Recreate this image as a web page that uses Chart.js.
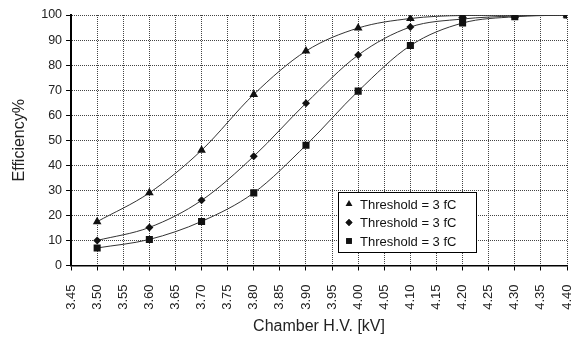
<!DOCTYPE html>
<html>
<head>
<meta charset="utf-8">
<script src="https://cdn.jsdelivr.net/npm/chart.js@4.4.0/dist/chart.umd.min.js"></script>
<style>
  html, body { margin: 0; padding: 0; background: #fff; }
  #wrap { width: 572px; height: 338px; }
</style>
</head>
<body>
<div id="wrap"><canvas id="effChart" width="572" height="338"></canvas></div>
<script>
// Data
const voltages = [3.50, 3.60, 3.70, 3.80, 3.90, 4.00, 4.10, 4.20, 4.30, 4.40];
const effTriangle = [17.5, 29, 46, 68.3, 85.6, 94.8, 98.6, 99.8, 99.9, 100];
const effDiamond = [10, 15.2, 26, 43.6, 64.8, 84, 95.2, 98.4, 99.6, 100];
const effSquare = [7, 10.4, 17.6, 29, 48, 69.6, 87.8, 96.8, 99.3, 100];
const seriesLabels = ['Threshold = 3 fC', 'Threshold = 3 fC', 'Threshold = 3 fC'];
const markerStyles = ['triangle', 'rectRot', 'rect'];

const font = "'Liberation Sans', Arial, sans-serif";

function toPoints(values) {
    return voltages.map((v, i) => ({ x: v, y: values[i] }));
}

function makeDataset(label, values, marker, size) {
    return {
        label: label,
        data: toPoints(values),
        borderColor: '#333',
        borderWidth: 1,
        backgroundColor: '#111',
        pointStyle: marker,
        pointRadius: size,
        pointBorderWidth: 0,
        cubicInterpolationMode: 'monotone',
        fill: false
    };
}

// Legend drawn inside the plot area, boxed
const boxLegend = {
    id: 'boxLegend',
    afterDraw(chart) {
        const ctx = chart.ctx;
        const xs = chart.scales.x;
        const ys = chart.scales.y;
        const left = Math.round(xs.getPixelForValue(3.961));
        const top = Math.round(ys.getPixelForValue(29.2));
        const w = 138, h = 60;
        ctx.save();
        ctx.fillStyle = '#fff';
        ctx.fillRect(left, top, w, h);
        ctx.strokeStyle = '#000';
        ctx.lineWidth = 1;
        ctx.strokeRect(left + 0.5, top + 0.5, w, h);
        ctx.font = '13px ' + font;
        ctx.textBaseline = 'middle';
        chart.data.datasets.forEach((ds, i) => {
            const cy = top + 12 + i * 18.5;
            Chart.helpers.drawPoint(ctx, {
                pointStyle: ds.pointStyle,
                radius: ds.pointStyle === 'rectRot' ? 3.5 : 4,
                borderWidth: 0
            }, left + 11, cy);
            ctx.fillStyle = '#111';
            ctx.fill();
            ctx.fillText(ds.label, left + 22, cy + 1);
        });
        ctx.restore();
    }
};

const ctx = document.getElementById('effChart').getContext('2d');
const effChart = new Chart(ctx, {
    type: 'line',
    data: {
        datasets: [
            makeDataset(seriesLabels[0], effTriangle, markerStyles[0], 5),
            makeDataset(seriesLabels[1], effDiamond, markerStyles[1], 4),
            makeDataset(seriesLabels[2], effSquare, markerStyles[2], 5)
        ]
    },
    options: {
        responsive: false,
        animation: false,
        layout: { padding: { top: 15, right: 5, left: 6, bottom: 2 } },
        plugins: {
            legend: { display: false },
            tooltip: { enabled: false }
        },
        scales: {
            x: {
                type: 'linear',
                min: 3.45,
                max: 4.40,
                // rotated labels make chart.js reserve extra room on the right
                afterFit: (scale) => { scale.paddingRight = 0; },
                border: { display: true, color: '#000', width: 1.5, dash: [1, 1] },
                grid: {
                    color: '#444',
                    tickBorderDash: [],
                    tickColor: '#000',
                    tickLength: 5
                },
                ticks: {
                    stepSize: 0.05,
                    autoSkip: false,
                    minRotation: 90,
                    maxRotation: 90,
                    padding: 14,
                    color: '#222',
                    font: { family: font, size: 13 },
                    callback: (v) => Number(v).toFixed(2)
                },
                title: {
                    display: true,
                    text: 'Chamber H.V. [kV]',
                    color: '#222',
                    font: { family: font, size: 16 },
                    padding: { top: -7, bottom: 0 }
                }
            },
            y: {
                min: 0,
                max: 100,
                border: { display: true, color: '#000', width: 2, dash: [1, 1] },
                grid: {
                    color: '#444',
                    tickBorderDash: [],
                    tickColor: '#000',
                    tickLength: 5
                },
                ticks: {
                    stepSize: 10,
                    color: '#222',
                    font: { family: font, size: 12.5 },
                    padding: 4
                },
                title: {
                    display: true,
                    text: 'Efficiency%',
                    color: '#222',
                    font: { family: font, size: 16 },
                    padding: { bottom: 8 }
                }
            }
        }
    },
    plugins: [boxLegend]
});
</script>
</body>
</html>
